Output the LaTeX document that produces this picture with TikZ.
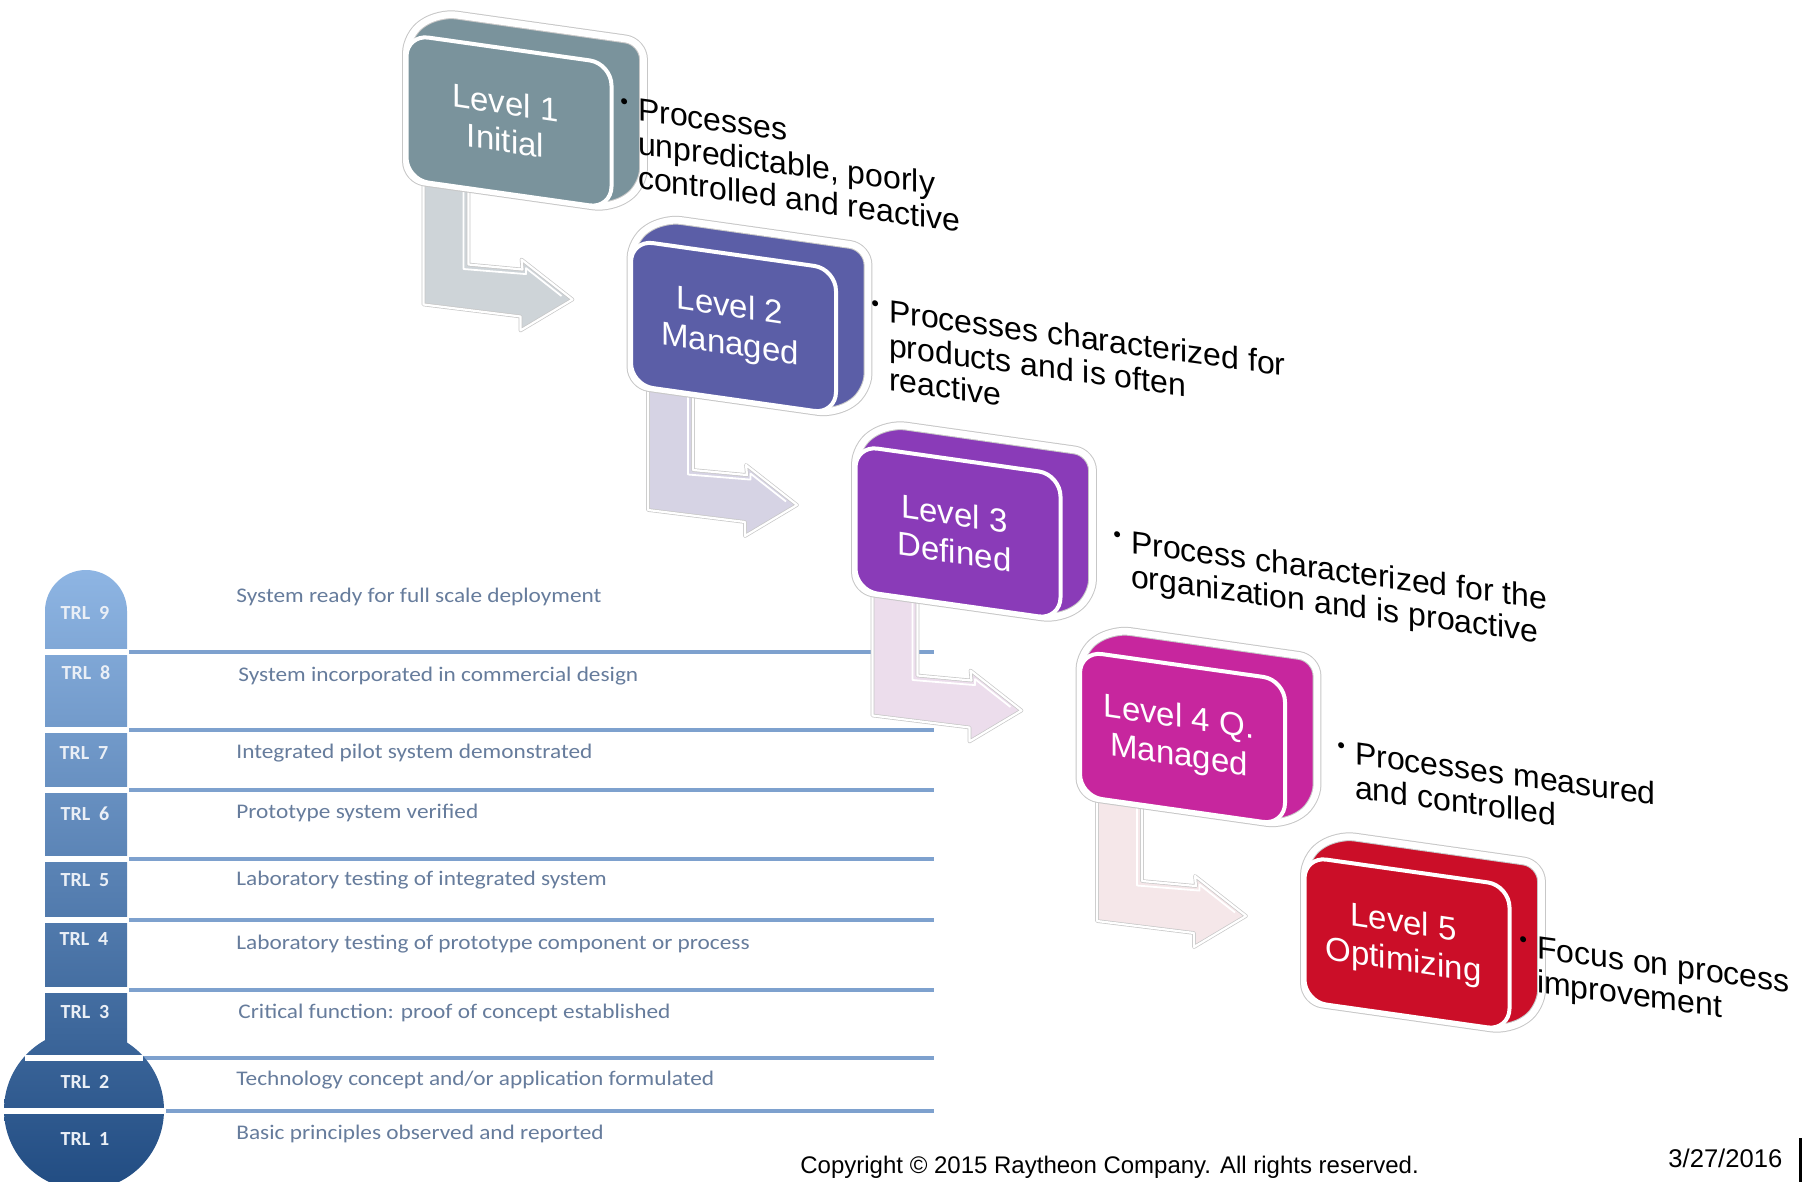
\documentclass[tikz,border=0pt]{standalone}
\usepackage{fontspec}
\setmainfont{Liberation Sans}
\newfontfamily\trlfont[FakeStretch=1.12]{Carlito}
\newfontfamily\trllabfont{Carlito}

% maturity level colours
\definecolor{lvlA}{RGB}{122,147,156}
\definecolor{lvlB}{RGB}{91,94,167}
\definecolor{lvlC}{RGB}{138,59,184}
\definecolor{lvlD}{RGB}{199,38,158}
\definecolor{lvlE}{RGB}{203,14,40}
% tints of the step arrows
\definecolor{arrA}{RGB}{206,212,216}
\definecolor{arrB}{RGB}{214,211,228}
\definecolor{arrC}{RGB}{236,221,236}
\definecolor{arrD}{RGB}{245,231,233}
% TRL thermometer
\definecolor{trlline}{RGB}{126,161,206}
\definecolor{trltext}{RGB}{102,124,156}
\definecolor{trltop}{RGB}{142,181,227}
\definecolor{trlmid}{RGB}{92,132,186}
\definecolor{trlbot}{RGB}{33,76,130}
\definecolor{trllabel}{RGB}{234,239,246}

\tikzset{
  boxtext/.style={text=white, font=\fontsize{16.5}{19}\selectfont,
    align=center, yslant=-0.15, inner sep=0pt},
  desctext/.style={font=\fontsize{16}{17}\selectfont, anchor=base west,
    yslant=-0.135, inner sep=0pt},
  trldesc/.style={text=trltext, font=\trlfont\fontsize{10.4}{12}\selectfont,
    anchor=west, inner sep=0pt},
  trllab/.style={text=trllabel, font=\trllabfont\bfseries\fontsize{10}{12}\selectfont,
    inner sep=0pt},
  rung/.style={draw=trlline, line width=2pt},
  runggap/.style={draw=white, line width=3pt},
  boxhalo/.style={draw=black!22, line width=4.4pt, rounded corners=9pt},
  boxedge/.style={draw=white, line width=3.4pt, rounded corners=9pt},
  boxfront/.style={draw=white, line width=2pt, rounded corners=11pt},
  arrowhalo/.style={draw=black!22, line width=1.8pt, line join=round},
  arrowedge/.style={draw=white, line width=1.1pt, line join=round},
  bevel/.style={draw=white, line width=0.9pt, line join=round},
  footer/.style={font=\fontsize{12}{14}\selectfont, anchor=base west, inner sep=0pt},
}

% 3-D level block: #1 = front top-left corner, #2 = colour
\newcommand{\levelbox}[2]{%
  \begin{scope}[shift={#1}]
    \path[boxhalo, fill=#2] (0,0) -- (32,-22) -- (237,7) -- (237,152)
      -- (205,174) -- (0,145) -- cycle;
    \path[boxedge] (0,0) -- (32,-22) -- (237,7) -- (237,152)
      -- (205,174) -- (0,145) -- cycle;
    \path[boxfront, fill=#2] (0,0) -- (205,29) -- (205,174) -- (0,145) -- cycle;
  \end{scope}}

% bent step arrow below a block: #1 = block corner, #2 = tint
\newcommand{\levelarrow}[2]{%
  \begin{scope}[shift={#1}]
    \path[arrowhalo, fill=#2] (17,120) -- (62,120) -- (62,230) -- (116,235)
      -- (115,225) -- (166,265) -- (114,296) -- (114,282) -- (17,270) -- cycle;
    \path[arrowedge] (17,120) -- (62,120) -- (62,230) -- (116,235)
      -- (115,225) -- (166,265) -- (114,296) -- (114,282) -- (17,270) -- cycle;
    \path[bevel] (57,120) -- (57,234.5) -- (119.5,239.6) -- (119.5,233.6) -- (155,261.5);
  \end{scope}}

% bullet used in the level descriptions
\newcommand{\lvlbullet}{\raisebox{5pt}{\fontsize{11}{11}\selectfont\textbullet}}

\begin{document}
\begin{tikzpicture}[x=0.5pt, y=-0.5pt]
\useasboundingbox[fill=white] (0,0) rectangle (1805,1182);

% ---------- TRL ladder ----------
\foreach \yy in {651.5,730,790,859,920,990}
  \draw[rung] (128,\yy) -- (934,\yy);
\draw[rung] (141,1058) -- (934,1058);
\draw[rung] (164,1111) -- (934,1111);

% thermometer column and bulb, one shading for both
\path[top color=trltop, middle color=trlmid, bottom color=trlbot]
  (127,1065) -- (127,611) arc[start angle=0, end angle=180, radius=20.5pt]
  -- (45,1065) -- cycle
  (84,1110) circle[radius=40pt];

% white gaps between the levels
\foreach \yy in {651.5,730,790,859,920,990}
  \draw[runggap] (43,\yy) -- (129,\yy);
\draw[runggap] (25,1058) -- (143,1058);
\draw[runggap] (2,1111) -- (166,1111);

% level labels in the column
\node[trllab] (t9) at (85,613)  {TRL\hspace{0.45em}9};
\node[trllab] (t8) at (86,673)  {TRL\hspace{0.45em}8};
\node[trllab] (t7) at (84,753)  {TRL\hspace{0.45em}7};
\node[trllab] (t6) at (85,814)  {TRL\hspace{0.45em}6};
\node[trllab] (t5) at (85,880)  {TRL\hspace{0.45em}5};
\node[trllab] (t4) at (84,939)  {TRL\hspace{0.45em}4};
\node[trllab] (t3) at (85,1012) {TRL\hspace{0.45em}3};
\node[trllab] (t2) at (85,1082) {TRL\hspace{0.45em}2};
\node[trllab] (t1) at (85,1139) {TRL\hspace{0.45em}1};

% level descriptions
\node[trldesc] (td9) at (236,597)  {System ready for full scale deployment};
\node[trldesc] (td8) at (238,676)  {System incorporated in commercial design};
\node[trldesc] (td7) at (236,753)  {Integrated pilot system demonstrated};
\node[trldesc] (td6) at (236,813)  {Prototype system verified};
\node[trldesc] (td5) at (236,880)  {Laboratory testing of integrated system};
\node[trldesc] (td4) at (236,944)  {Laboratory testing of prototype component or process};
\node[trldesc] (td3) at (238,1013) {Critical function: proof of concept established};
\node[trldesc] (td2) at (236,1080) {Technology concept and/or application formulated};
\node[trldesc] (td1) at (236,1134) {Basic principles observed and reported};

% ---------- maturity staircase ----------
\levelarrow{(406.5,34.5)}{arrA}
\levelarrow{(631,240)}{arrB}
\levelarrow{(855.5,445.5)}{arrC}
\levelarrow{(1080,651)}{arrD}

\levelbox{(406.5,34.5)}{lvlA}
\levelbox{(631,240)}{lvlB}
\levelbox{(855.5,445.5)}{lvlC}
\levelbox{(1080,651)}{lvlD}
\levelbox{(1304.5,856.5)}{lvlE}

\node[boxtext] (L1) at (505.5,121.5) {Level 1\\Initial};
\node[boxtext] (L2) at (730,327)     {Level 2\\Managed};
\node[boxtext] (L3) at (954.5,532.5) {Level 3\\Defined};
\node[boxtext] (L4) at (1179,738)    {Level 4 Q.\\Managed};
\node[boxtext] (L5) at (1403.5,943.5){Level 5\\Optimizing};

\node[desctext] (d1) at (620,118) {\begin{tabular}[t]{@{}l@{\hspace{5pt}}l@{}}
  \lvlbullet & Processes\\
  & unpredictable, poorly\\ & controlled and reactive\end{tabular}};
\node[desctext] (d2) at (871,320) {\begin{tabular}[t]{@{}l@{\hspace{5pt}}l@{}}
  \lvlbullet & Processes characterized for\\
  & products and is often\\ & reactive\end{tabular}};
\node[desctext] (d3) at (1113,551) {\begin{tabular}[t]{@{}l@{\hspace{5pt}}l@{}}
  \lvlbullet & Process characterized for the\\
  & organization and is proactive\end{tabular}};
\node[desctext] (d4) at (1337,762) {\begin{tabular}[t]{@{}l@{\hspace{5pt}}l@{}}
  \lvlbullet & Processes measured\\
  & and controlled\end{tabular}};
\node[desctext] (d5) at (1519,956) {\begin{tabular}[t]{@{}l@{\hspace{5pt}}l@{}}
  \lvlbullet & Focus on process\\
  & improvement\end{tabular}};

% ---------- footer ----------
\node[footer] (copy) at (800,1173) {Copyright \textcopyright\ 2015 Raytheon Company. All rights reserved.};
\node[footer, font=\fontsize{12.8}{14}\selectfont] (date) at (1668,1167) {3/27/2016};
\draw[line width=1.5pt] (1800,1138) -- (1800,1182);
\end{tikzpicture}
\end{document}
